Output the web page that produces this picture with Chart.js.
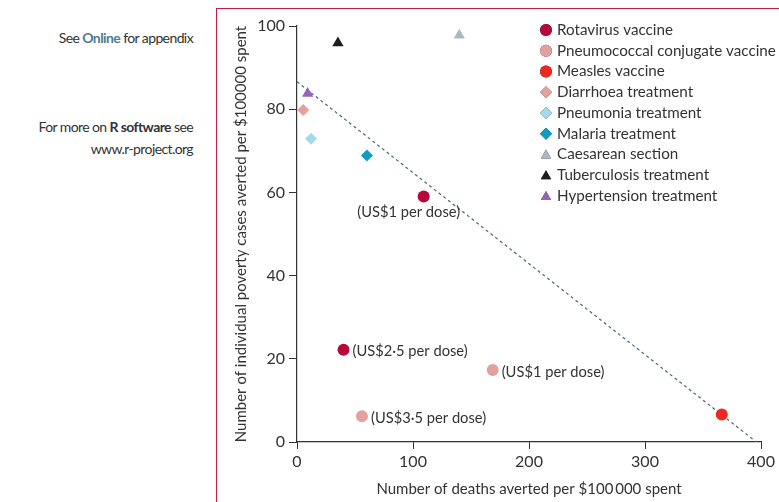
<!DOCTYPE html>
<html>
<head>
<meta charset="utf-8">
<script src="https://cdn.jsdelivr.net/npm/chart.js@4"></script>
<style>
  body { margin: 0; background: #fff; font-family: Lato, "Open Sans", sans-serif; color: #333; }
  .note { position: absolute; right: 586px; text-align: right; font-size: 14px; letter-spacing: -0.6px; line-height: 22px; color: #333; }
  .note b { font-weight: bold; }
  .online { color: #4d7c8f; font-weight: bold; }
  #frame { position: absolute; left: 216px; top: 8px; width: 563px; height: 494px;
           border-left: 1.5px solid #c8184a; border-top: 1.5px solid #c8184a; }
  #myChart { position: absolute; left: 0; top: 0; }
</style>
</head>
<body>
<div class="note" style="top:27px;">See <span class="online">Online</span> for appendix</div>
<div class="note" style="top:116px;">For more on <b>R software</b> see<br>www.r-project.org</div>
<div id="frame"><canvas id="myChart" width="563" height="493"></canvas></div>
<script>
// serie (nome, colore, forma)
const nomi = ['Rotavirus vaccine', 'Pneumococcal conjugate vaccine', 'Measles vaccine',
  'Diarrhoea treatment', 'Pneumonia treatment', 'Malaria treatment',
  'Caesarean section', 'Tuberculosis treatment', 'Hypertension treatment'];
const colori = ['#b5093c', '#e2a09e', '#ec2a22', '#e2a09e', '#a2d9ec', '#0e9cc4', '#aeb7bf', '#1e1e1e', '#9565b5'];
const forme = ['circle', 'circle', 'circle', 'rectRot', 'rectRot', 'rectRot', 'triangle', 'triangle', 'triangle'];

// morti evitate (x) e casi di povertà evitati (y) per $100000
const morti = [[109.2, 40.1], [168.7, 56.0], [366.2], [5.4], [12.1], [60.3], [139.9], [35.3], [9.2]];
const poverta = [[59.0, 22.2], [17.3, 6.2], [6.6], [79.8], [72.9], [68.9], [97.8], [95.9], [83.8]];

// etichette di prezzo per dose
const etichette = [['(US$1 per dose)', '(US$2\u00b75 per dose)'], ['(US$1 per dose)', '(US$3\u00b75 per dose)'], [], [], [], [], [], [], []];

// linea tratteggiata
const lineaX = [0, 396];
const lineaY = [86.6, 0];

const xTicks = [0, 100, 200, 300, 400];
const yTicks = [0, 20, 40, 60, 80, 100];

const FONT = 'Lato, "Open Sans", sans-serif';
const TESTO = '#333';

let datasets = [];
for (let i = 0; i < nomi.length; i++) {
  let punti = [];
  for (let j = 0; j < morti[i].length; j++) {
    punti.push({x: morti[i][j], y: poverta[i][j]});
  }
  datasets.push({
    type: 'scatter',
    label: nomi[i],
    data: punti,
    backgroundColor: colori[i],
    borderWidth: 0,
    pointStyle: forme[i],
    pointRadius: forme[i] === 'triangle' ? 6.5 : 6,
    pointHoverRadius: 6
  });
}
datasets.push({
  type: 'line',
  label: 'linea',
  data: lineaX.map((x, k) => ({x: x, y: lineaY[k]})),
  borderColor: '#46687a',
  borderWidth: 1.2,
  borderDash: [3, 3],
  pointRadius: 0,
  fill: false
});

// legenda ed etichette disegnate a mano
const extra = {
  id: 'extra',
  afterDatasetsDraw(chart) {
    const ctx = chart.ctx;
    const xs = chart.scales.x, ys = chart.scales.y;
    ctx.save();
    ctx.font = '14.7px ' + FONT;
    ctx.fillStyle = TESTO;
    ctx.textBaseline = 'middle';
    // etichette prezzo
    for (let i = 0; i < nomi.length; i++) {
      for (let j = 0; j < etichette[i].length; j++) {
        const px = xs.getPixelForValue(morti[i][j]);
        const py = ys.getPixelForValue(poverta[i][j]);
        if (i === 0 && j === 0) {
          ctx.textAlign = 'center';
          ctx.fillText(etichette[i][j], px - 15, py + 16);
        } else {
          ctx.textAlign = 'left';
          ctx.fillText(etichette[i][j], px + 9, py + 2);
        }
      }
    }
    // legenda
    ctx.font = '15.2px ' + FONT;
    ctx.textAlign = 'left';
    for (let i = 0; i < nomi.length; i++) {
      const ly = 21 + i * 20.75;
      Chart.helpers.drawPoint(ctx, {
        pointStyle: forme[i], radius: 6, rotation: 0, borderWidth: 0
      }, 329, ly + (forme[i] === 'triangle' ? 1 : 0));
      ctx.fillStyle = colori[i];
      ctx.fill();
      ctx.fillStyle = TESTO;
      ctx.fillText(nomi[i], 340, ly);
    }
    ctx.restore();
  }
};

new Chart(document.getElementById('myChart'), {
  data: { datasets: datasets },
  options: {
    responsive: false,
    animation: false,
    layout: { padding: { left: 0, right: 19, top: 17, bottom: 0 } },
    plugins: { legend: { display: false }, tooltip: { enabled: false } },
    scales: {
      x: {
        type: 'linear', min: 0, max: 400,
        afterBuildTicks: (s) => { s.ticks = xTicks.map(v => ({value: v})); },
        afterFit: (s) => { s.height = 60; },
        grid: { drawOnChartArea: false, tickLength: 7, color: TESTO },
        border: { color: TESTO, width: 1.2 },
        ticks: { color: TESTO, font: { family: FONT, size: 16 }, padding: 3, maxRotation: 0 },
        title: { display: true, text: 'Number of deaths averted per $100\u2009000 spent', color: TESTO,
                 font: { family: FONT, size: 15 }, padding: { top: 0, bottom: 4 } }
      },
      y: {
        type: 'linear', min: 0, max: 100,
        afterBuildTicks: (s) => { s.ticks = yTicks.map(v => ({value: v})); },
        afterFit: (s) => { s.width = 80; },
        grid: { drawOnChartArea: false, tickLength: 8, color: TESTO },
        border: { color: TESTO, width: 1.2 },
        ticks: { color: TESTO, font: { family: FONT, size: 16 }, padding: 4 },
        title: { display: true, text: 'Number of individual poverty cases averted per $100000 spent', color: TESTO,
                 font: { family: FONT, size: 15 }, padding: { top: 15, bottom: 0 } }
      }
    }
  },
  plugins: [extra]
});
</script>
</body>
</html>
